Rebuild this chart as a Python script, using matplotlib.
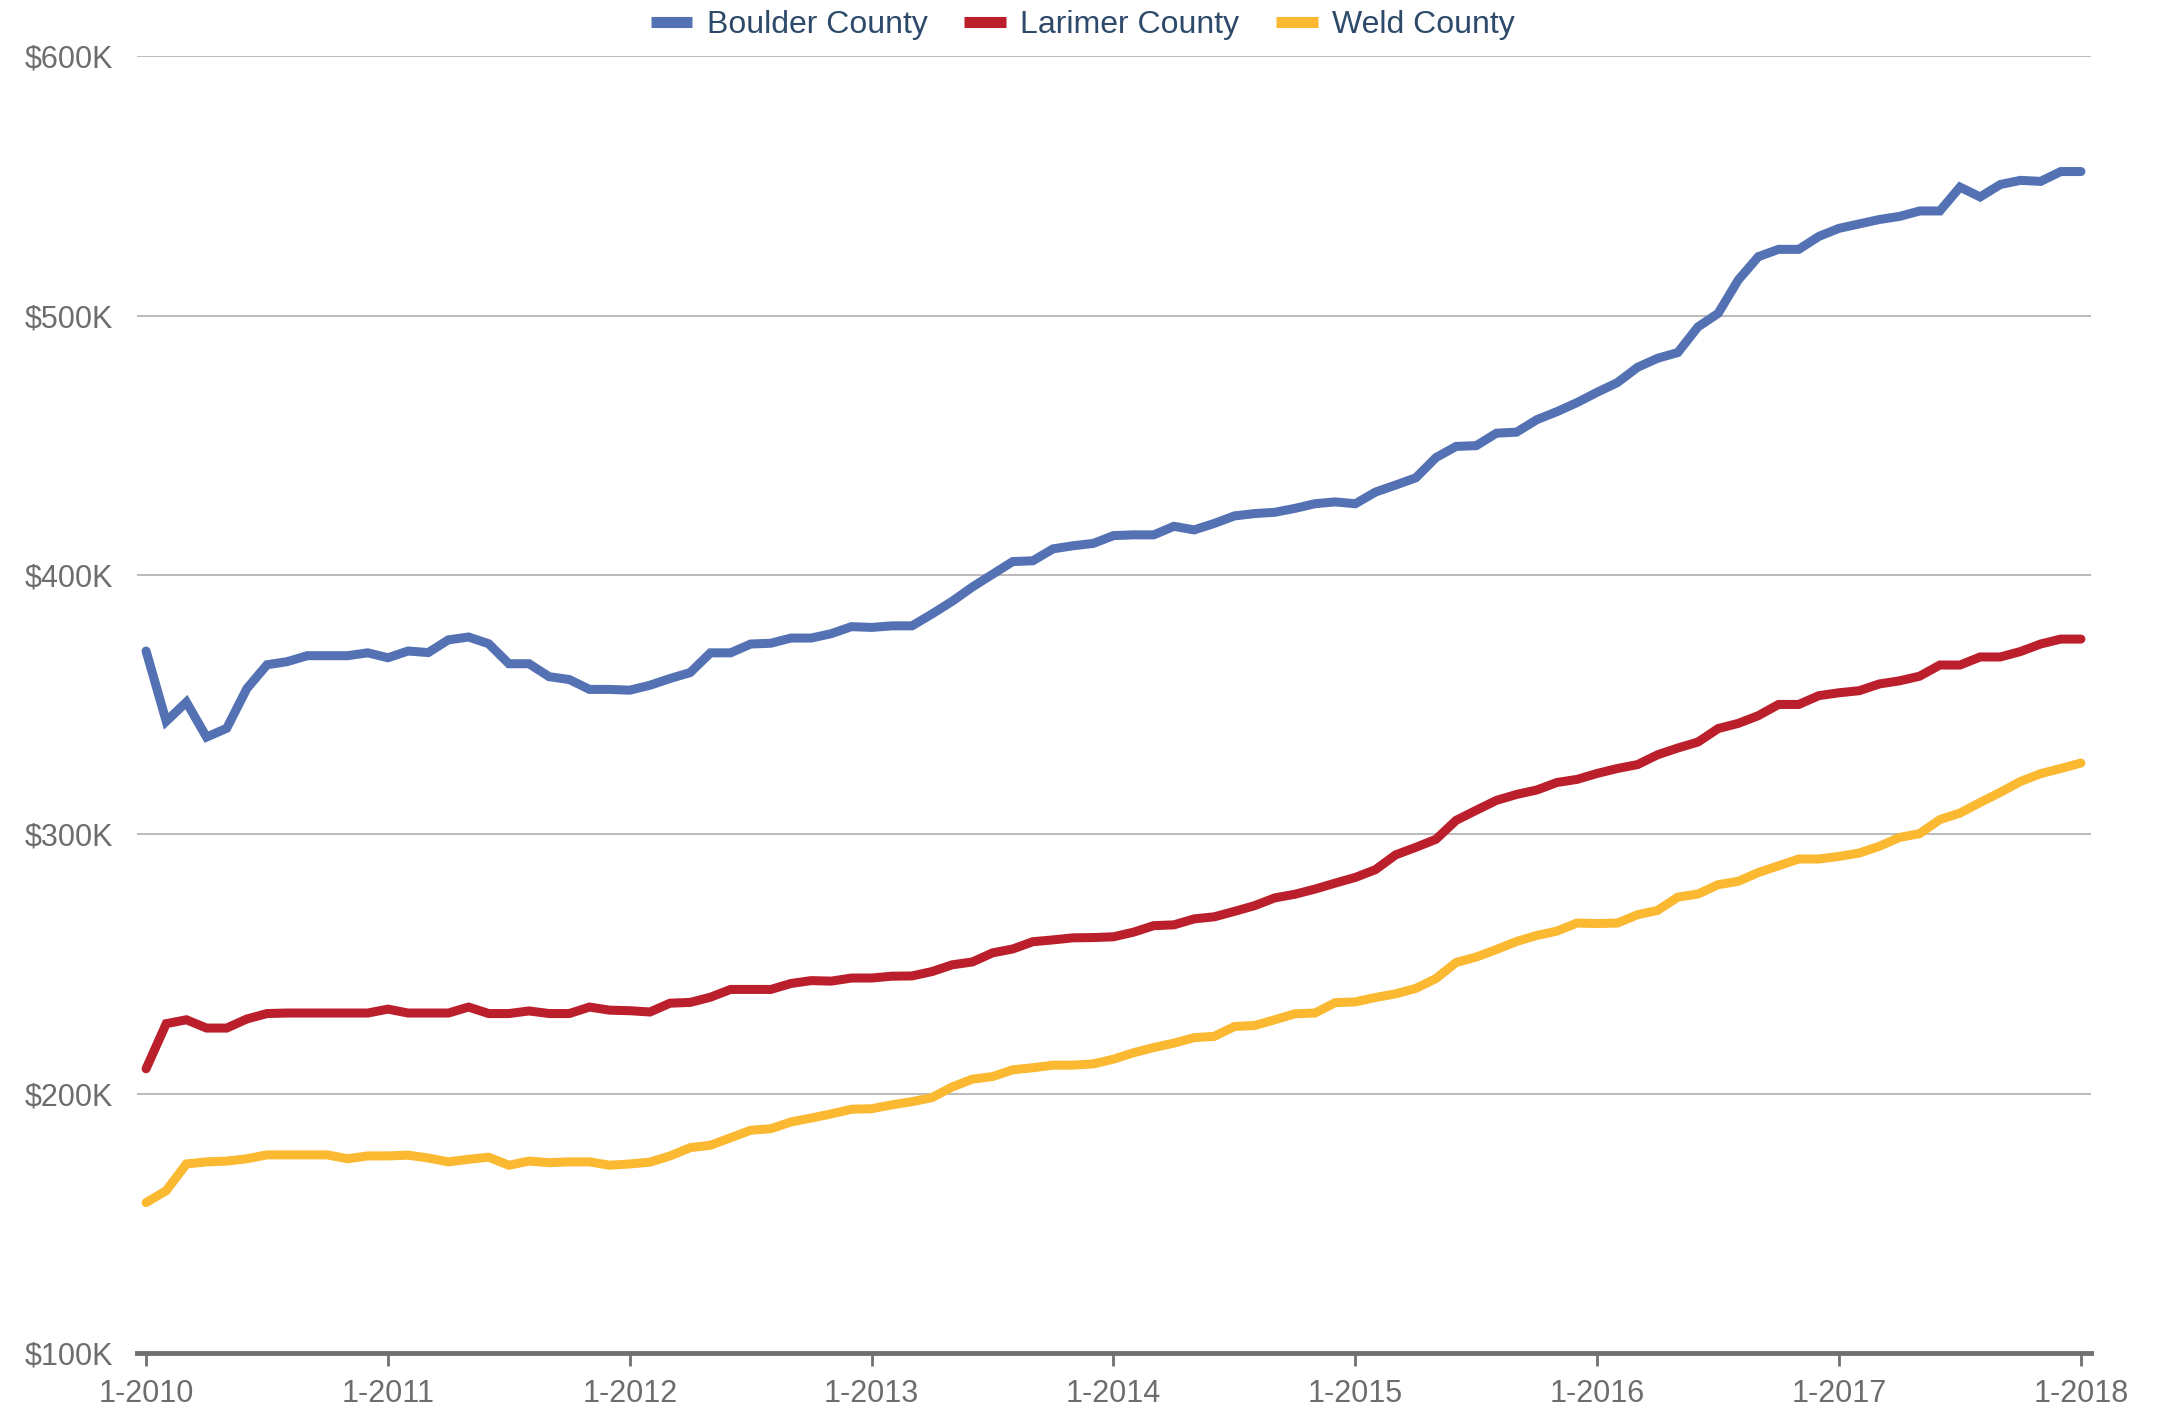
import matplotlib
matplotlib.use("Agg")
import matplotlib.pyplot as plt

plt.rcParams['font.family'] = ['Liberation Sans', 'DejaVu Sans']

series_names = ["Boulder County", "Larimer County", "Weld County"]
series_colors = ["#5471b3", "#bb1f2b", "#fbb831"]

# Monthly median prices (thousands of $), Jan 2010 .. Jan 2018
boulder = [370.7, 343.6, 351, 337.5, 340.9, 356.2, 365.4, 366.6, 368.9, 368.9, 368.9, 370,
           368.1, 370.7, 370.1, 375, 376.1, 373.5, 365.8, 365.8, 360.8, 359.7, 355.9, 355.9,
           355.6, 357.5, 360.1, 362.4, 370, 370, 373.4, 373.7, 375.7, 375.7, 377.4, 380.1,
           379.8, 380.4, 380.4, 385, 389.9, 395.4, 400.3, 405.2, 405.5, 410.1, 411.3, 412.2,
           415.2, 415.5, 415.5, 418.8, 417.4, 419.9, 422.8, 423.7, 424.2, 425.7, 427.5, 428.2,
           427.5, 432, 434.7, 437.5, 445.3, 449.6, 449.9, 454.7, 455.1, 459.9, 463, 466.5,
           470.5, 474.2, 480.1, 483.6, 485.8, 495.7, 500.9, 513.8, 522.8, 525.6, 525.6, 530.6,
           533.7, 535.4, 537.1, 538.3, 540.4, 540.4, 549.6, 545.8, 550.6, 552.2, 551.8, 555.6,
           555.6]
larimer = [209.6, 227, 228.5, 225.3, 225.3, 228.8, 230.9, 231.1, 231.1, 231.1, 231.1, 231.1,
           232.6, 231.1, 231.1, 231.1, 233.4, 230.9, 230.9, 231.9, 230.9, 230.9, 233.4, 232.2,
           232, 231.5, 234.9, 235.2, 237.2, 240.2, 240.2, 240.2, 242.5, 243.6, 243.4, 244.6,
           244.6, 245.3, 245.4, 247.1, 249.7, 250.8, 254.3, 255.8, 258.6, 259.3, 260.1, 260.2,
           260.5, 262.3, 264.8, 265.1, 267.4, 268.2, 270.3, 272.5, 275.5, 276.9, 278.9, 281.2,
           283.4, 286.4, 292.1, 295, 298.1, 305.4, 309.3, 313.1, 315.4, 317.1, 320, 321.2,
           323.5, 325.4, 326.9, 330.7, 333.3, 335.6, 340.8, 342.8, 345.8, 350.1, 350.1, 353.5,
           354.6, 355.4, 358, 359.2, 361, 365.3, 365.3, 368.4, 368.4, 370.5, 373.4, 375.3,
           375.3]
weld = [158, 162.6, 172.9, 173.7, 174, 174.9, 176.4, 176.4, 176.4, 176.4, 174.9, 176,
        176, 176.3, 175.2, 173.7, 174.7, 175.5, 172.4, 174, 173.4, 173.7, 173.7, 172.4,
        172.9, 173.6, 176, 179.2, 180.1, 183, 185.9, 186.5, 189.1, 190.6, 192.2, 194,
        194.2, 195.7, 196.9, 198.5, 202.6, 205.6, 206.6, 209.2, 210, 211, 211, 211.5,
        213.3, 215.8, 217.8, 219.5, 221.6, 222.1, 225.9, 226.3, 228.5, 230.8, 231.1, 235.1,
        235.4, 237.1, 238.5, 240.6, 244.4, 250.6, 252.7, 255.6, 258.7, 261, 262.7, 265.8,
        265.6, 265.8, 269, 270.7, 275.8, 277, 280.6, 281.9, 285.3, 287.9, 290.5, 290.5,
        291.5, 292.8, 295.4, 298.8, 300.3, 305.7, 308.2, 312.3, 316.2, 320.4, 323.4, 325.4,
        327.5]

x_tick_labels = ["1-2010", "1-2011", "1-2012", "1-2013", "1-2014",
                 "1-2015", "1-2016", "1-2017", "1-2018"]
y_ticks = [100, 200, 300, 400, 500, 600]
y_tick_labels = ["$100K", "$200K", "$300K", "$400K", "$500K", "$600K"]

fig = plt.figure(figsize=(21.57, 14.10), dpi=100)
ax = fig.add_axes([137 / 2157, 1 - 1353 / 1410, (2091 - 137) / 2157, (1353 - 56.4) / 1410])

months = list(range(len(boulder)))
for data, name, col in zip([boulder, larimer, weld], series_names, series_colors):
    ax.plot(months, data, color=col, lw=6.5, label=name,
            solid_capstyle='round', solid_joinstyle='miter', zorder=3)

ax.set_xlim(-0.45, 96.5)
ax.set_ylim(100, 600)
ax.set_xticks(list(range(0, 97, 12)))
ax.set_xticklabels(x_tick_labels)
ax.set_yticks(y_ticks)
ax.set_yticklabels(y_tick_labels)

for s in ['top', 'right', 'left']:
    ax.spines[s].set_visible(False)
ax.spines['bottom'].set_color('#707070')
ax.spines['bottom'].set_linewidth(3.5)
ax.spines['bottom'].set_zorder(4)

ax.yaxis.grid(True, color='#b5b5b5', lw=1.3)
ax.set_axisbelow(True)
ax.tick_params(axis='y', length=0, pad=17, labelsize=22, labelcolor='#6d6d6d')
ax.tick_params(axis='x', length=9, width=2, color='#707070', pad=10,
               labelsize=22, labelcolor='#6d6d6d')

leg = fig.legend(loc='upper center', bbox_to_anchor=(0.502, 1.013), ncol=3, frameon=False,
                 fontsize=23, handlelength=1.3, handletextpad=0.45, columnspacing=1.15)
for h in leg.get_lines():
    h.set_linewidth(8)
    h.set_solid_capstyle('butt')
for t in leg.get_texts():
    t.set_color('#2e4a6a')

fig.savefig("out.png", dpi=100)
